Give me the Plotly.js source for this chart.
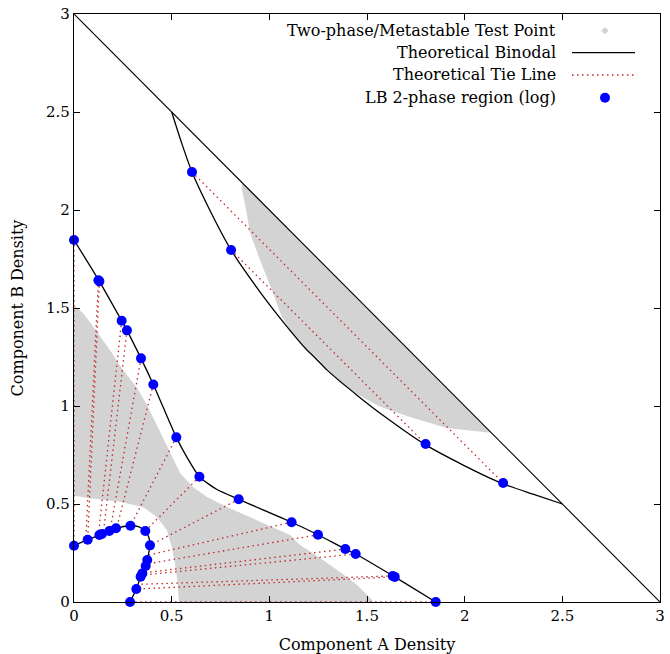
<!DOCTYPE html>
<html>
<head>
<meta charset="utf-8">
<script src="https://cdn.plot.ly/plotly-3.0.1.min.js"></script>
<style>html,body{margin:0;padding:0;background:#fff;}#chart{width:670px;height:654px;}</style>
</head>
<body>
<div id="chart"></div>
<script>
// ---------- data ----------
// Upper gray (two-phase / metastable test points) region outline
const grayUpX = [0.86, 2.14, 2.13, 1.908, 1.736, 1.567, 1.45, 1.36, 1.30, 1.25, 1.19, 1.12, 1.063, 1.019, 0.952, 0.901, 0.884, 0.859];
const grayUpY = [2.14, 0.86, 0.864, 0.888, 0.939, 0.996, 1.06, 1.12, 1.185, 1.24, 1.295, 1.37, 1.456, 1.577, 1.745, 1.883, 1.985, 2.11];
// Lower gray region outline
const grayLoX = [-0.02, 0.046, 0.118, 0.184, 0.251, 0.323, 0.379, 0.404, 0.440, 0.492, 0.543, 0.609, 0.681, 0.783, 0.901, 1.004, 1.106, 1.157, 1.260, 1.362, 1.449, 1.526, 1.531,
                 0.539, 0.529, 0.517, 0.500, 0.475, 0.423, 0.355, 0.236, 0.082, -0.02];
const grayLoY = [1.531, 1.474, 1.378, 1.286, 1.184, 1.092, 0.995, 0.944, 0.862, 0.760, 0.658, 0.587, 0.536, 0.485, 0.434, 0.388, 0.342, 0.291, 0.224, 0.153, 0.087, 0.010, -0.02,
                 -0.02, 0.112, 0.197, 0.282, 0.367, 0.435, 0.483, 0.512, 0.529, 0.546];

// Diagonal x + y = 3
const diagX = [0, 3];
const diagY = [3, 0];

// Theoretical binodal branches
const binUpX = [0.5, 0.55, 0.604, 0.7, 0.804, 0.95, 1.05, 1.183, 1.24, 1.296, 1.455, 1.585, 1.796, 1.99, 2.194, 2.35, 2.5];
const binUpY = [2.5, 2.345, 2.194, 1.99, 1.796, 1.585, 1.455, 1.296, 1.24, 1.183, 1.05, 0.95, 0.804, 0.7, 0.604, 0.55, 0.5];
const binOutX = [0, 0.13, 0.244, 0.271, 0.343, 0.406, 0.524, 0.58, 0.642, 0.73, 0.843, 1.114, 1.249, 1.389, 1.442, 1.642, 1.852];
const binOutY = [1.847, 1.636, 1.435, 1.386, 1.243, 1.11, 0.84, 0.735, 0.639, 0.575, 0.524, 0.407, 0.343, 0.27, 0.245, 0.128, 0];
const binInX = [0, 0.07, 0.13, 0.143, 0.181, 0.215, 0.289, 0.33, 0.365, 0.383, 0.389, 0.375, 0.367, 0.35, 0.341, 0.319, 0.287];
const binInY = [0.287, 0.318, 0.342, 0.347, 0.362, 0.376, 0.389, 0.385, 0.362, 0.33, 0.289, 0.214, 0.184, 0.146, 0.129, 0.066, 0];

// Theoretical tie lines (end A, end B)
const tieAx = [0.604, 0.804, 0, 0.13, 0.125, 0.244, 0.271, 0.343, 0.406, 0.524, 0.642, 0.843, 1.114, 1.249, 1.389, 1.442, 1.642, 1.632, 0.287];
const tieAy = [2.194, 1.796, 1.847, 1.636, 1.642, 1.435, 1.386, 1.243, 1.11, 0.84, 0.639, 0.524, 0.407, 0.343, 0.27, 0.245, 0.128, 0.133, 0];
const tieBx = [2.197, 1.80, 0, 0.07, 0.06, 0.125, 0.15, 0.184, 0.218, 0.289, 0.365, 0.389, 0.385, 0.378, 0.364, 0.355, 0.319, 0.33, 1.852];
const tieBy = [0.607, 0.806, 0.287, 0.318, 0.31, 0.343, 0.35, 0.362, 0.376, 0.389, 0.362, 0.289, 0.24, 0.195, 0.15, 0.138, 0.066, 0.09, 0];

// LB 2-phase region (log) points
const lbX = [0.604, 0.804, 1.80, 2.197,
             0, 0.13, 0.125, 0.244, 0.271, 0.343, 0.406, 0.524, 0.642, 0.843, 1.114, 1.249, 1.389, 1.442, 1.642, 1.632, 1.852,
             0, 0.07, 0.13, 0.143, 0.181, 0.215, 0.289, 0.365, 0.389, 0.375, 0.367, 0.35, 0.341, 0.319, 0.287];
const lbY = [2.194, 1.796, 0.806, 0.607,
             1.847, 1.636, 1.642, 1.435, 1.386, 1.243, 1.11, 0.84, 0.639, 0.524, 0.407, 0.343, 0.27, 0.245, 0.128, 0.133, 0,
             0.287, 0.318, 0.342, 0.347, 0.362, 0.376, 0.389, 0.362, 0.289, 0.214, 0.184, 0.146, 0.129, 0.066, 0];

const tickVals = [0, 0.5, 1, 1.5, 2, 2.5, 3];
const tickText = ['0', '0.5', '1', '1.5', '2', '2.5', '3'];
const legendLabels = ['Two-phase/Metastable Test Point', 'Theoretical Binodal', 'Theoretical Tie Line', 'LB 2-phase region (log)'];

// ---------- build traces ----------
const FONT = 'DejaVu Serif, serif';
const FS = 16;
const GRAY = '#d3d3d3';
const TIE = '#c02828';

const tieX = [], tieY = [];
for (let i = 0; i < tieAx.length; i++) {
  tieX.push(tieAx[i], tieBx[i], null);
  tieY.push(tieAy[i], tieBy[i], null);
}

const traces = [
  {x: grayUpX, y: grayUpY, mode: 'lines', fill: 'toself', fillcolor: GRAY, line: {width: 0, color: GRAY}, hoverinfo: 'skip', showlegend: false},
  {x: grayLoX, y: grayLoY, mode: 'lines', fill: 'toself', fillcolor: GRAY, line: {width: 0, color: GRAY}, hoverinfo: 'skip', showlegend: false},
  {x: tieX, y: tieY, mode: 'lines', line: {color: TIE, width: 1.3, dash: '1.5px,3.5px'}, connectgaps: false, showlegend: false},
  {x: diagX, y: diagY, mode: 'lines', line: {color: '#000', width: 1.1}, showlegend: false},
  {x: binUpX, y: binUpY, mode: 'lines', line: {color: '#000', width: 1.3, shape: 'spline', smoothing: 0.6}, showlegend: false},
  {x: binOutX, y: binOutY, mode: 'lines', line: {color: '#000', width: 1.3, shape: 'spline', smoothing: 0.6}, showlegend: false},
  {x: binInX, y: binInY, mode: 'lines', line: {color: '#000', width: 1.3, shape: 'spline', smoothing: 0.6}, showlegend: false},
  {x: lbX, y: lbY, mode: 'markers', marker: {color: '#0000ff', size: 10}, cliponaxis: false, showlegend: false}
];

// legend (gnuplot-style: text right-aligned, sample on the right)
const px = v => (v - 74) / 586;
const py = v => (602 - v) / 588;
const legY = [30.7, 52.7, 75, 97.7];
const annotations = legendLabels.map((t, i) => ({
  text: t, xref: 'paper', yref: 'paper', x: px(558), y: py(legY[i]), xanchor: 'right', yanchor: 'middle',
  showarrow: false, font: {family: FONT, size: FS, color: '#000'}
}));
const dx = 3.6 / 586, dy = 3.6 / 588;
const cx = px(605), cyD = py(legY[0]);
const shapes = [
  {type: 'path', xref: 'paper', yref: 'paper', path: `M ${cx} ${cyD + dy} L ${cx + dx} ${cyD} L ${cx} ${cyD - dy} L ${cx - dx} ${cyD} Z`, fillcolor: GRAY, line: {width: 0}},
  {type: 'line', xref: 'paper', yref: 'paper', x0: px(572), x1: px(635), y0: py(legY[1]), y1: py(legY[1]), line: {color: '#000', width: 1.3}},
  {type: 'line', xref: 'paper', yref: 'paper', x0: px(572), x1: px(635), y0: py(legY[2]), y1: py(legY[2]), line: {color: TIE, width: 1.3, dash: '1.5px,3.5px'}},
  {type: 'circle', xref: 'paper', yref: 'paper', x0: px(600), x1: px(610), y0: py(legY[3] + 5), y1: py(legY[3] - 5), fillcolor: '#0000ff', line: {width: 0}}
];

const axisCommon = {
  range: [0, 3], tickvals: tickVals, ticktext: tickText, ticks: 'inside', ticklen: 6, tickwidth: 1, tickcolor: '#000',
  showline: true, linecolor: '#000', linewidth: 1.2, mirror: 'ticks', showgrid: false, zeroline: false,
  tickfont: {family: FONT, size: 15, color: '#000'}, fixedrange: true
};

const layout = {
  width: 670, height: 654,
  margin: {l: 74, r: 10, t: 14, b: 52, pad: 0},
  paper_bgcolor: '#fff', plot_bgcolor: '#fff',
  showlegend: false,
  xaxis: Object.assign({}, axisCommon, {title: {text: 'Component A Density', font: {family: FONT, size: FS, color: '#000'}, standoff: 15}}),
  yaxis: Object.assign({}, axisCommon, {title: {text: 'Component B Density', font: {family: FONT, size: FS, color: '#000'}, standoff: 18}}),
  annotations: annotations,
  shapes: shapes
};

Plotly.newPlot('chart', traces, layout, {displayModeBar: false, staticPlot: true});
</script>
</body>
</html>
